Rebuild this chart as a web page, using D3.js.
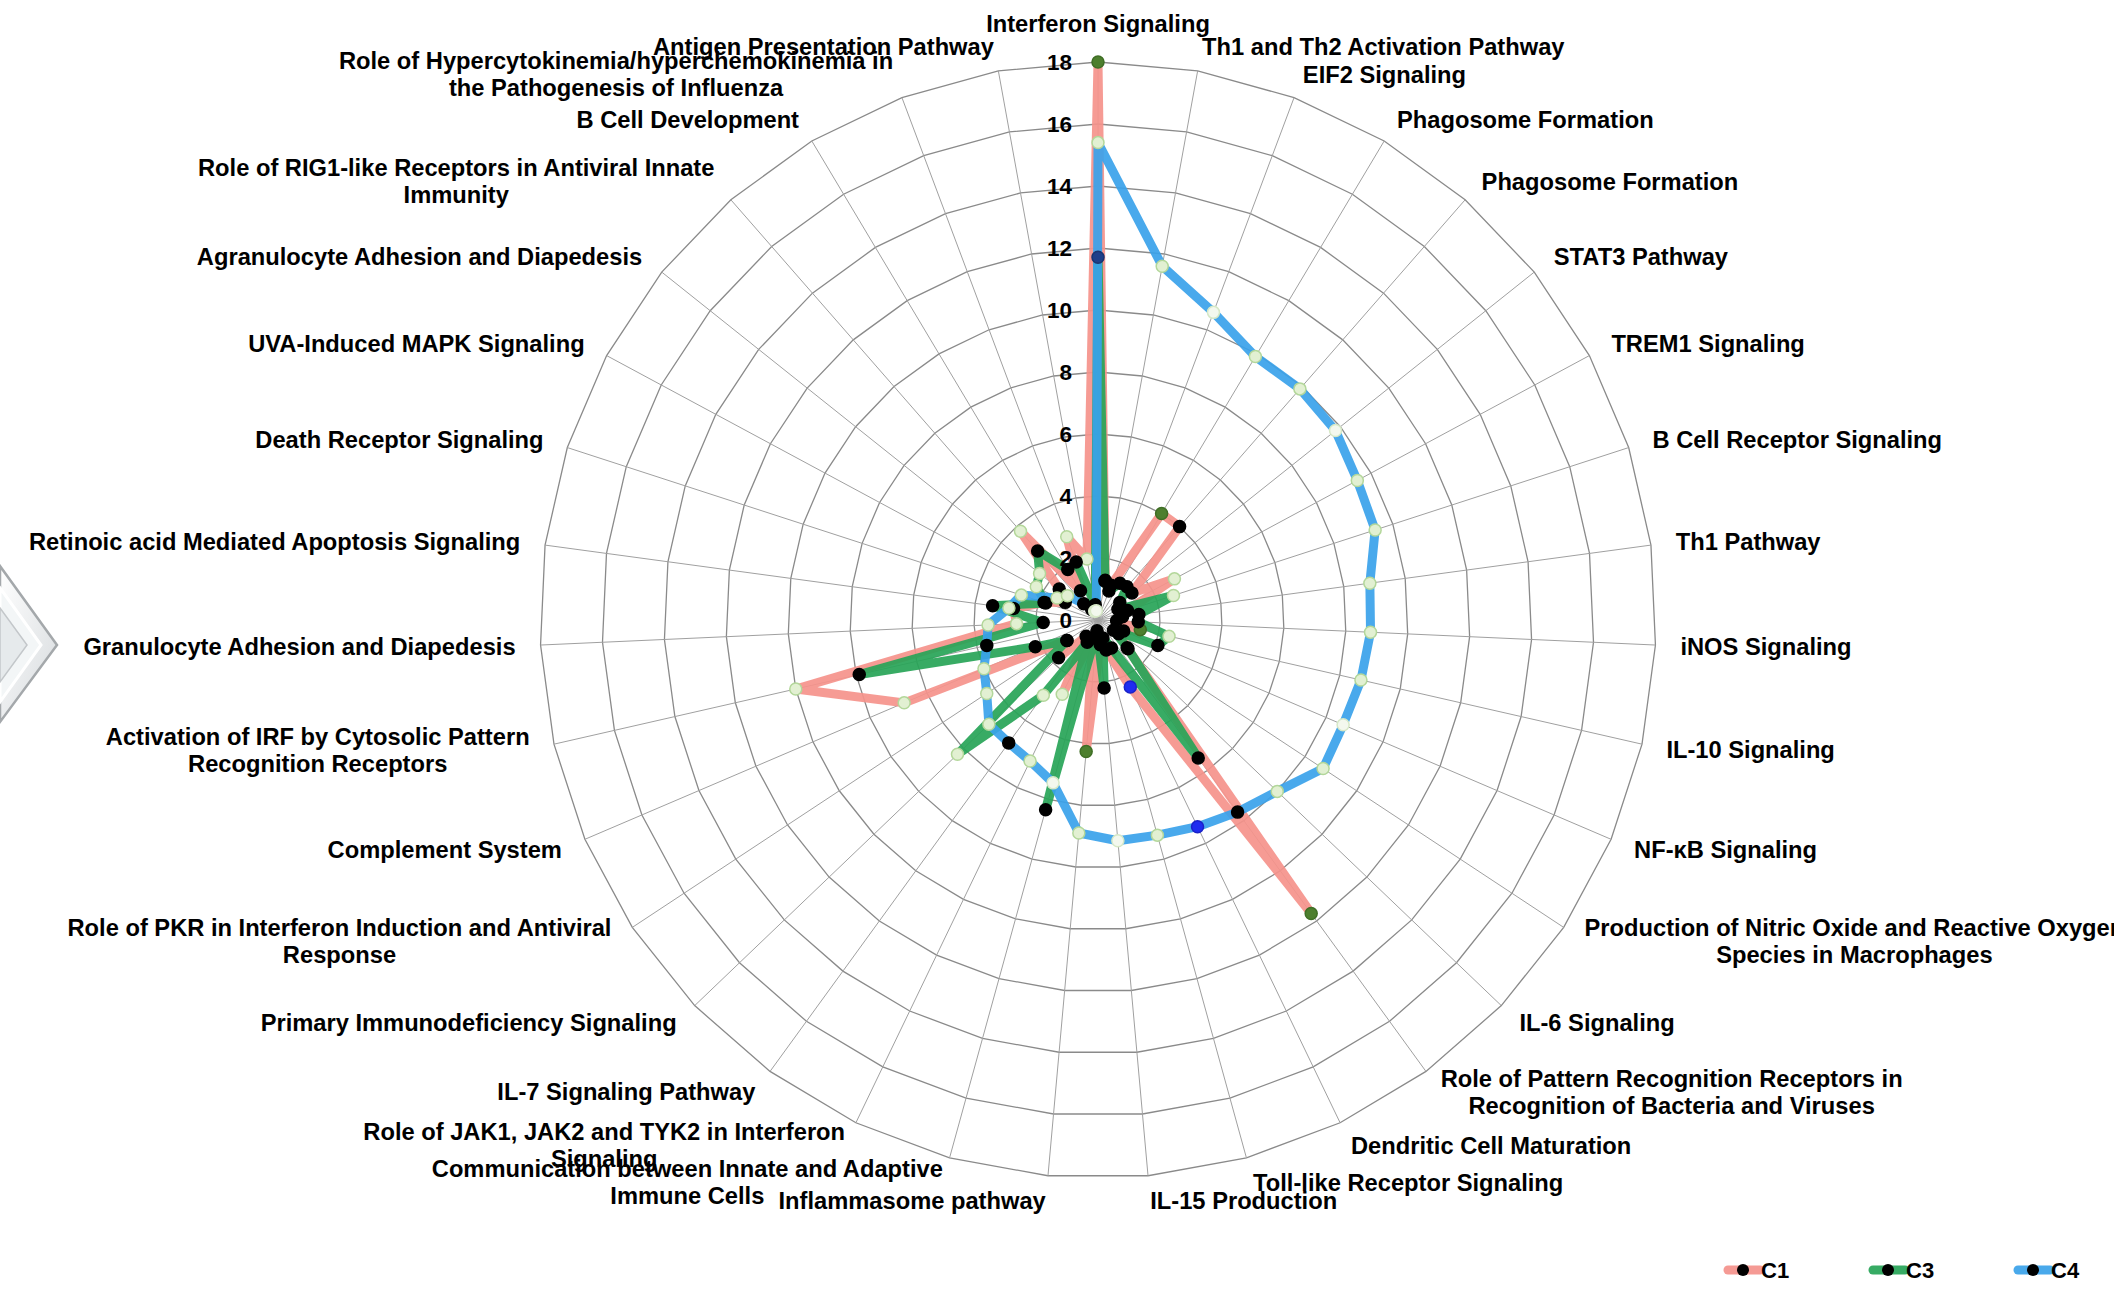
<!DOCTYPE html>
<html>
<head>
<meta charset="utf-8">
<script src="https://cdn.jsdelivr.net/npm/d3@7"></script>
<style>
  body { margin: 0; background: #fff; }
  svg text { font-family: "Liberation Sans", Arial, sans-serif; font-weight: bold; fill: #000; }
</style>
</head>
<body>
<svg id="chart" width="2114" height="1296"></svg>
<script>
// categories, clockwise from the top
const categories = [
  "Interferon Signaling",
  "Th1 and Th2 Activation Pathway",
  "EIF2 Signaling",
  "Phagosome Formation",
  "Phagosome Formation",
  "STAT3 Pathway",
  "TREM1 Signaling",
  "B Cell Receptor Signaling",
  "Th1 Pathway",
  "iNOS Signaling",
  "IL-10 Signaling",
  "NF-κB Signaling",
  "Production of Nitric Oxide and Reactive Oxygen\nSpecies in Macrophages",
  "IL-6 Signaling",
  "Role of Pattern Recognition Receptors in\nRecognition of Bacteria and Viruses",
  "Dendritic Cell Maturation",
  "Toll-like Receptor Signaling",
  "IL-15 Production",
  "Inflammasome pathway",
  "Communication between Innate and Adaptive\nImmune Cells",
  "Role of JAK1, JAK2 and TYK2 in Interferon\nSignaling",
  "IL-7 Signaling Pathway",
  "Primary Immunodeficiency Signaling",
  "Role of PKR in Interferon Induction and Antiviral\nResponse",
  "Complement System",
  "Activation of IRF by Cytosolic Pattern\nRecognition Receptors",
  "Granulocyte Adhesion and Diapedesis",
  "Retinoic acid Mediated Apoptosis Signaling",
  "Death Receptor Signaling",
  "UVA-Induced MAPK Signaling",
  "Agranulocyte Adhesion and Diapedesis",
  "Role of RIG1-like Receptors in Antiviral Innate\nImmunity",
  "B Cell Development",
  "Role of Hypercytokinemia/hyperchemokinemia in\nthe Pathogenesis of Influenza",
  "Antigen Presentation Pathway"
];

const ticks = [0, 2, 4, 6, 8, 10, 12, 14, 16, 18];

// series values
const c1 = [18, 1.3, 1.2, 4.0, 4.0, 1.4, 2.8, 1.0, 0.8, 0.6, 1.4, 0.9, 0.8, 1.3, 11.7, 2.4, 1.0, 0.8,
            4.26, 0.6, 2.66, 0.65, 1.76, 1.2, 6.8, 10.0, 2.63, 2.75, 1.83, 1.2, 1.6, 3.8, 1.1, 2.87, 2.0];
const c3 = [11.7, 1.27, 1.0, 1.38, 1.42, 0.9, 0.73, 2.56, 1.33, 1.3, 2.35, 2.1, 0.6, 1.34, 5.5, 1.0, 0.6, 2.2,
            0.35, 6.35, 0.8, 3.0, 6.27, 1.2, 2.2, 7.9, 1.77, 3.43, 1.77, 2.26, 2.41, 2.96, 1.9, 2.0, 0.5];
const c4 = [15.4, 11.6, 10.6, 9.9, 9.9, 9.8, 9.5, 9.4, 8.85, 8.8, 8.7, 8.6, 8.7, 8.0, 7.66, 7.4, 7.2, 7.15,
            6.9, 5.45, 5.05, 4.9, 4.87, 4.3, 4.0, 3.68, 3.55, 2.9, 2.6, 1.5, 1.26, 0.7, 0.4, 0.3, 0.3];

// marker kind per point (k black, l light, w white, o olive, b blue, n navy)
const c1Marks = ["o","k","k","o","k","k","l","k","k","k","o","k","k","k","o","b","k","k",
                 "o","k","l","k","k","k","l","l","l","k","k","k","k","l","k","l","l"];
const c3Marks = ["n","k","k","k","k","k","k","l","k","k","l","k","k","k","k","k","k","k",
                 "k","k","k","l","l","k","k","k","k","k","k","l","l","k","k","k","k"];
const c4Marks = ["l","l","w","l","l","w","l","l","l","l","l","w","l","l","k","b","l","w",
                 "l","w","l","k","l","l","l","k","l","l","l","l","l","k","k","w","w"];

const seriesNames = ["C1", "C3", "C4"];

// styles
const lineColors = { C1: "#f5928b", C3: "#27a457", C4: "#3aa2ea" };
const markFill = { k: "#000", l: "#e2f0d2", w: "#f3f8ee", o: "#4d7f2e", b: "#1f2cf0", n: "#1e3f8a" };
const markStroke = { k: "#000", l: "#b3d79a", w: "#d6e8c6", o: "#3f6e25", b: "#1a22c8", n: "#1a3470" };

const series = seriesNames.map((name, i) => ({
  name: name,
  values: [c1, c3, c4][i],
  marks: [c1Marks, c3Marks, c4Marks][i]
}));

const width = 2114, height = 1296;
const cx = 1098, cy = 620, R = 558;

const svg = d3.select("#chart");

// left decoration (chevron)
const defs = svg.append("defs");
const grad = defs.append("linearGradient")
  .attr("id", "chev").attr("x1", 0).attr("y1", 0).attr("x2", 1).attr("y2", 1);
grad.append("stop").attr("offset", "0%").attr("stop-color", "#ffffff");
grad.append("stop").attr("offset", "100%").attr("stop-color", "#d6dadd");
const deco = svg.append("g");
deco.append("polygon").attr("points", "0,566 57,645 0,722")
  .attr("fill", "url(#chev)").attr("stroke", "#a4a8ab").attr("stroke-width", 2.5);
deco.append("polygon").attr("points", "0,588 41,645 0,702")
  .attr("fill", "#f3f6f7").attr("stroke", "#ffffff").attr("stroke-width", 3);
deco.append("polygon").attr("points", "0,608 27,645 0,682")
  .attr("fill", "#e6eaec").attr("stroke", "#c3c7ca").attr("stroke-width", 1.5);

const rScale = d3.scaleLinear().domain([0, 18]).range([0, R]);
const aScale = d3.scaleLinear().domain([0, categories.length]).range([0, 2 * Math.PI]);

const g = svg.append("g").attr("transform", `translate(${cx},${cy})`);

// grid rings
const ringLine = d3.lineRadial()
  .angle((d, i) => aScale(i))
  .curve(d3.curveLinearClosed);

ticks.filter(t => t > 0).forEach(t => {
  g.append("path")
    .attr("d", ringLine.radius(() => rScale(t))(categories))
    .attr("fill", "none")
    .attr("stroke", "#8a8a8a")
    .attr("stroke-width", 1.3);
});

// spokes
g.selectAll("line.spoke")
  .data(categories)
  .enter()
  .append("line")
  .attr("class", "spoke")
  .attr("x1", 0).attr("y1", 0)
  .attr("x2", (d, i) => rScale(18) * Math.sin(aScale(i)))
  .attr("y2", (d, i) => -rScale(18) * Math.cos(aScale(i)))
  .attr("stroke", "#a0a0a0")
  .attr("stroke-width", 1);

// series lines
const seriesLine = d3.lineRadial()
  .angle((d, i) => aScale(i))
  .radius(d => rScale(d))
  .curve(d3.curveLinearClosed);

series.forEach(s => {
  g.append("path")
    .attr("d", seriesLine(s.values))
    .attr("fill", "none")
    .attr("stroke", lineColors[s.name])
    .attr("stroke-width", 9)
    .attr("stroke-linejoin", "round")
    .attr("opacity", 0.92);
});

// markers on top
series.forEach(s => {
  g.selectAll(null)
    .data(s.values)
    .enter()
    .append("circle")
    .attr("cx", (d, i) => rScale(d) * Math.sin(aScale(i)))
    .attr("cy", (d, i) => -rScale(d) * Math.cos(aScale(i)))
    .attr("r", 6)
    .attr("fill", (d, i) => markFill[s.marks[i]])
    .attr("stroke", (d, i) => markStroke[s.marks[i]])
    .attr("stroke-width", 1.5);
});

// tick labels
g.selectAll("text.tick")
  .data(ticks)
  .enter()
  .append("text")
  .attr("class", "tick")
  .attr("x", -26)
  .attr("y", d => -rScale(d))
  .attr("dy", "0.36em")
  .attr("text-anchor", "end")
  .style("font-size", "22.5px")
  .text(d => d);

// category labels
const labelR = R + 25;
const lineH = 27;
categories.forEach((name, i) => {
  const ang = aScale(i);
  const s = Math.sin(ang), c = Math.cos(ang);
  const extra = c > 0.99 ? 14 : 0;
  const ax = (labelR + extra) * s;
  const ay = -(labelR + extra) * c;
  const lines = name.split("\n");
  const lg = g.append("g");
  const texts = lines.map((ln, k) => lg.append("text")
    .attr("x", 0)
    .attr("y", k * lineH)
    .attr("dy", "0.36em")
    .attr("text-anchor", "middle")
    .style("font-size", "23.7px")
    .text(ln));
  const maxW = d3.max(texts, t => t.node().getComputedTextLength());
  let ox = ax;
  if (s > 0.02) ox = ax + maxW / 2;
  else if (s < -0.02) ox = ax - maxW / 2;
  const oy = ay - (lines.length - 1) * lineH / 2;
  lg.attr("transform", `translate(${ox},${oy})`);
});

// legend
const legendX = d3.scalePoint().domain(seriesNames).range([1728, 2018]);
const legend = svg.append("g").attr("transform", "translate(0,1270)");
seriesNames.forEach(name => {
  const x = legendX(name);
  legend.append("line")
    .attr("x1", x).attr("x2", x + 32)
    .attr("y1", 0).attr("y2", 0)
    .attr("stroke", lineColors[name])
    .attr("stroke-width", 9)
    .attr("stroke-linecap", "round")
    .attr("opacity", 0.92);
  legend.append("circle")
    .attr("cx", x + 15).attr("cy", 0).attr("r", 6)
    .attr("fill", "#000");
  legend.append("text")
    .attr("x", x + 33).attr("y", 0)
    .attr("dy", "0.36em")
    .style("font-size", "22px")
    .text(name);
});
</script>
</body>
</html>
